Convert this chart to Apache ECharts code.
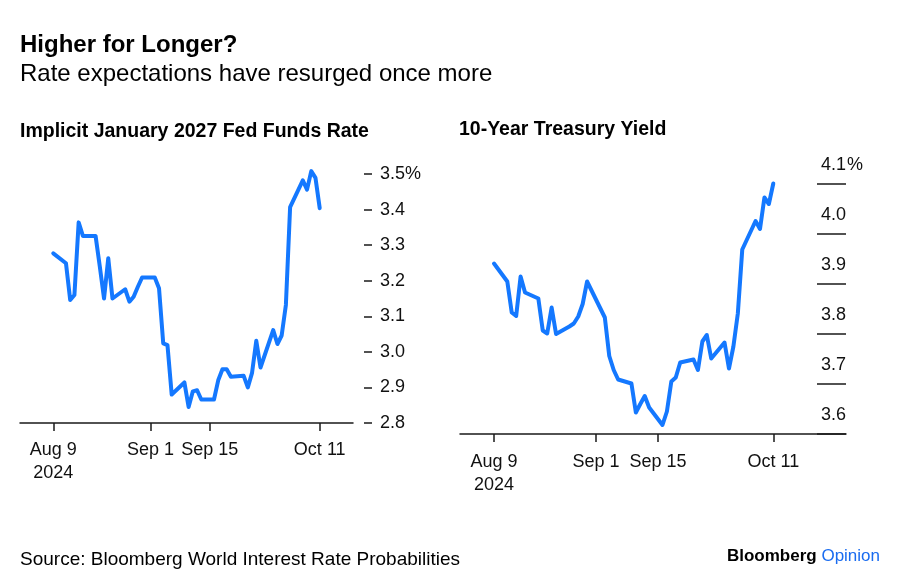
<!DOCTYPE html>
<html>
<head>
<meta charset="utf-8">
<script src="https://cdn.jsdelivr.net/npm/echarts@6/dist/echarts.min.js"></script>
<style>
html,body{margin:0;padding:0;background:#fff;}
#chart{width:900px;height:588px;}
</style>
</head>
<body>
<div id="chart"></div>
<script>
// ---- Data ----
const fedDates = ['2024-08-09','2024-08-12','2024-08-13','2024-08-14','2024-08-15','2024-08-16',
  '2024-08-19','2024-08-20','2024-08-21','2024-08-22','2024-08-23','2024-08-26','2024-08-27',
  '2024-08-28','2024-08-29','2024-08-30','2024-09-02','2024-09-03','2024-09-04','2024-09-05',
  '2024-09-06','2024-09-09','2024-09-10','2024-09-11','2024-09-12','2024-09-13','2024-09-16',
  '2024-09-17','2024-09-18','2024-09-19','2024-09-20','2024-09-23','2024-09-24','2024-09-25',
  '2024-09-26','2024-09-27','2024-09-30','2024-10-01','2024-10-02','2024-10-03','2024-10-04',
  '2024-10-07','2024-10-08','2024-10-09','2024-10-10','2024-10-11'];
const fedValues = [3.277,3.249,3.146,3.160,3.364,3.326,
  3.326,3.240,3.150,3.263,3.150,3.176,3.141,
  3.155,3.183,3.209,3.209,3.179,3.024,3.019,
  2.880,2.914,2.845,2.889,2.892,2.866,2.866,
  2.920,2.951,2.951,2.930,2.933,2.900,2.941,
  3.031,2.956,3.061,3.022,3.046,3.132,3.407,
  3.482,3.456,3.508,3.489,3.404];

const tsyDates = ['2024-08-09','2024-08-12','2024-08-13','2024-08-14','2024-08-15','2024-08-16',
  '2024-08-19','2024-08-20','2024-08-21','2024-08-22','2024-08-23','2024-08-26','2024-08-27',
  '2024-08-28','2024-08-29','2024-08-30','2024-09-03','2024-09-04','2024-09-05',
  '2024-09-06','2024-09-09','2024-09-10','2024-09-11','2024-09-12','2024-09-13','2024-09-16',
  '2024-09-17','2024-09-18','2024-09-19','2024-09-20','2024-09-23','2024-09-24','2024-09-25',
  '2024-09-26','2024-09-27','2024-09-30','2024-10-01','2024-10-02','2024-10-03','2024-10-04',
  '2024-10-07','2024-10-08','2024-10-09','2024-10-10','2024-10-11'];
const tsyValues = [3.941,3.905,3.843,3.836,3.915,3.883,
  3.871,3.807,3.801,3.853,3.800,3.815,3.821,
  3.835,3.860,3.905,3.833,3.756,3.728,
  3.709,3.701,3.643,3.660,3.676,3.653,3.618,
  3.645,3.705,3.713,3.743,3.749,3.728,3.785,
  3.798,3.751,3.783,3.731,3.775,3.841,3.969,
  4.026,4.010,4.073,4.060,4.101];

const tickDates = ['2024-08-09','2024-09-01','2024-09-15','2024-10-11'];
const tickLabels = ['Aug 9\n2024','Sep 1','Sep 15','Oct 11'];

// ---- helpers ----
const FONT = "'Liberation Sans', Arial, Helvetica, sans-serif";
const INK = '#111';
const LINE = '#1478ff';
const baseUTC = Date.UTC(2024, 7, 9);
function dayOf(s) {
  const p = s.split('-');
  return (Date.UTC(+p[0], +p[1] - 1, +p[2]) - baseUTC) / 86400000;
}
const tickDays = tickDates.map(dayOf);
function tickLabel(v) {
  const i = tickDays.findIndex(d => Math.abs(d - v) < 1e-6);
  return i >= 0 ? tickLabels[i] : '';
}
const fedData = fedDates.map((d, i) => [dayOf(d), fedValues[i]]);
const tsyData = tsyDates.map((d, i) => [dayOf(d), tsyValues[i]]);

function xAxisFor(gridIndex, min, max, margin) {
  return {
    type: 'value', gridIndex, min, max,
    splitLine: { show: false },
    axisLine: { show: true, onZero: false, lineStyle: { color: '#1a1a1a', width: 1.5 } },
    axisTick: { show: true, length: 8, customValues: tickDays, lineStyle: { color: '#1a1a1a', width: 1.5 } },
    axisLabel: {
      customValues: tickDays, formatter: tickLabel, margin: margin,
      fontFamily: FONT, fontSize: 18, lineHeight: 23, color: INK, align: 'center'
    }
  };
}

const chart = echarts.init(document.getElementById('chart'), null, { renderer: 'canvas' });
chart.setOption({
  backgroundColor: '#fff',
  animation: false,
  grid: [
    { left: 20, top: 174, width: 333, height: 249 },
    { left: 460, top: 184, width: 386, height: 250 }
  ],
  xAxis: [
    xAxisFor(0, -7.87, 70.87, 16),
    xAxisFor(1, -7.67, 79.4, 17)
  ],
  yAxis: [
    {
      type: 'value', gridIndex: 0, position: 'right', offset: 11,
      min: 2.8, max: 3.5, interval: 0.1,
      splitLine: { show: false },
      axisLine: { show: false, onZero: false },
      axisTick: { show: true, length: 8, lineStyle: { color: '#1a1a1a', width: 1.5 } },
      axisLabel: {
        margin: 16, fontFamily: FONT, fontSize: 18, color: INK,
        formatter: v => (Math.abs(v - 3.5) < 1e-6 ? '3.5%' : v.toFixed(1))
      }
    },
    {
      type: 'value', gridIndex: 1, position: 'right',
      min: 3.6, max: 4.1, interval: 0.1,
      splitLine: { show: false },
      axisLine: { show: false, onZero: false },
      axisTick: { show: true, inside: true, length: 29, lineStyle: { color: '#1a1a1a', width: 1.5 } },
      axisLabel: {
        inside: true, margin: 0, fontFamily: FONT, fontSize: 18, color: INK,
        verticalAlign: 'bottom', padding: [0, 0, 10, 0],
        formatter: v => v.toFixed(1)
      }
    },
    {
      type: 'value', gridIndex: 1, position: 'right',
      min: 3.6, max: 4.1, interval: 0.1,
      splitLine: { show: false },
      axisLine: { show: false, onZero: false },
      axisTick: { show: false },
      axisLabel: {
        inside: false, margin: 1, fontFamily: FONT, fontSize: 18, color: INK,
        verticalAlign: 'bottom', padding: [0, 0, 10, 0],
        formatter: v => (Math.abs(v - 4.1) < 1e-6 ? '%' : '')
      }
    }
  ],
  series: [
    {
      type: 'line', xAxisIndex: 0, yAxisIndex: 0, data: fedData,
      showSymbol: false, clip: false, smooth: false,
      lineStyle: { color: LINE, width: 4, join: 'round', cap: 'round' }
    },
    {
      type: 'line', xAxisIndex: 1, yAxisIndex: 1, data: tsyData,
      showSymbol: false, clip: false, smooth: false,
      lineStyle: { color: LINE, width: 4, join: 'round', cap: 'round' }
    }
  ],
  graphic: [
    { type: 'text', left: 20, top: 33, style: { text: 'Higher for Longer?', font: 'bold 24px ' + FONT, fill: '#000' } },
    { type: 'text', left: 20, top: 62, style: { text: 'Rate expectations have resurged once more', font: '24px ' + FONT, fill: '#000' } },
    { type: 'text', left: 20, top: 122, style: { text: 'Implicit January 2027 Fed Funds Rate', font: 'bold 19.5px ' + FONT, fill: '#000' } },
    { type: 'text', left: 459, top: 120, style: { text: '10-Year Treasury Yield', font: 'bold 19.5px ' + FONT, fill: '#000' } },
    { type: 'text', left: 20, top: 550, style: { text: 'Source: Bloomberg World Interest Rate Probabilities', font: '19px ' + FONT, fill: '#000' } },
    {
      type: 'text', right: 20, top: 548,
      style: {
        text: '{b|Bloomberg} {o|Opinion}',
        rich: {
          b: { fontFamily: FONT, fontWeight: 'bold', fontSize: 17, fill: '#000' },
          o: { fontFamily: FONT, fontSize: 17, fill: '#1a6cf0' }
        },
        font: '17px ' + FONT
      }
    }
  ]
});
</script>
</body>
</html>
